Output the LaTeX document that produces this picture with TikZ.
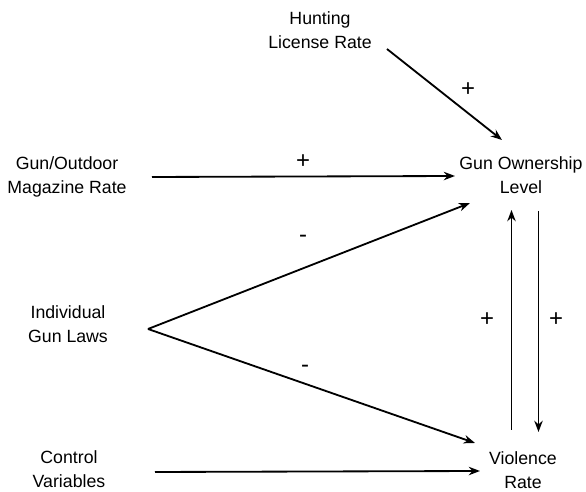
\documentclass[tikz,border=0pt]{standalone}
\usepackage{fontspec}
\setmainfont{Liberation Sans}
\usepackage{tikz}
\usetikzlibrary{arrows.meta,positioning}

\tikzset{
  var/.style={align=center,inner sep=0pt,font=\fontsize{12.6}{17.4}\selectfont},
  sign/.style={inner sep=0pt,font=\fontsize{17}{19}\selectfont},
  link/.style={->,line width=1.3pt,>={Stealth[length=8pt,width=6pt]}}
}

\begin{document}
\begin{tikzpicture}
  \useasboundingbox (0,0) rectangle (14.65,12.3);
  % variables
  \node[var] (hunt) at (8.0,11.55) {Hunting\\License Rate};
  \node[var] (mag) at (1.675,7.875) {Gun/Outdoor\\Magazine Rate};
  \node[var] (own) at (13.025,7.925) {Gun Ownership\\Level};
  \node[var] (laws) at (1.7,4.2) {Individual\\Gun Laws};
  \node[var] (ctrl) at (1.725,0.575) {Control\\Variables};
  \node[var] (viol) at (13.075,0.55) {Violence\\Rate};
  \coordinate (fork) at (3.7,4.075);
  % effects
  \draw[link] ([shift={(1.675,-0.475)}]hunt.center) -- ([shift={(-0.475,0.875)}]own.center);
  \draw[link] ([shift={(2.125,0)}]mag.center) -- ([shift={(-1.65,-0.025)}]own.center);
  \draw[link] (fork) -- ([shift={(-1.275,-0.7)}]own.center);
  \draw[link] (fork) -- ([shift={(-1.2,0.675)}]viol.center);
  \draw[link] ([shift={(2.15,-0.075)}]ctrl.center) -- ([shift={(-1.075,-0.025)}]viol.center);
  \draw[link] ([shift={(-0.2875,1.0)}]viol.center) -- ([shift={(-0.2375,-0.875)}]own.center);
  \draw[link] ([shift={(0.4375,-0.9)}]own.center) -- ([shift={(0.3875,0.95)}]viol.center);
  % signs
  \node[sign] (sHunt) at (11.7,10.05) {+};
  \node[sign] (sMag) at (7.575,8.25) {+};
  \node[sign] (sLawsOwn) at (7.575,6.325) {-};
  \node[sign] (sLawsViol) at (7.625,3.075) {-};
  \node[sign] (sUp) at (12.175,4.3) {+};
  \node[sign] (sDown) at (13.9,4.3) {+};
\end{tikzpicture}
\end{document}
